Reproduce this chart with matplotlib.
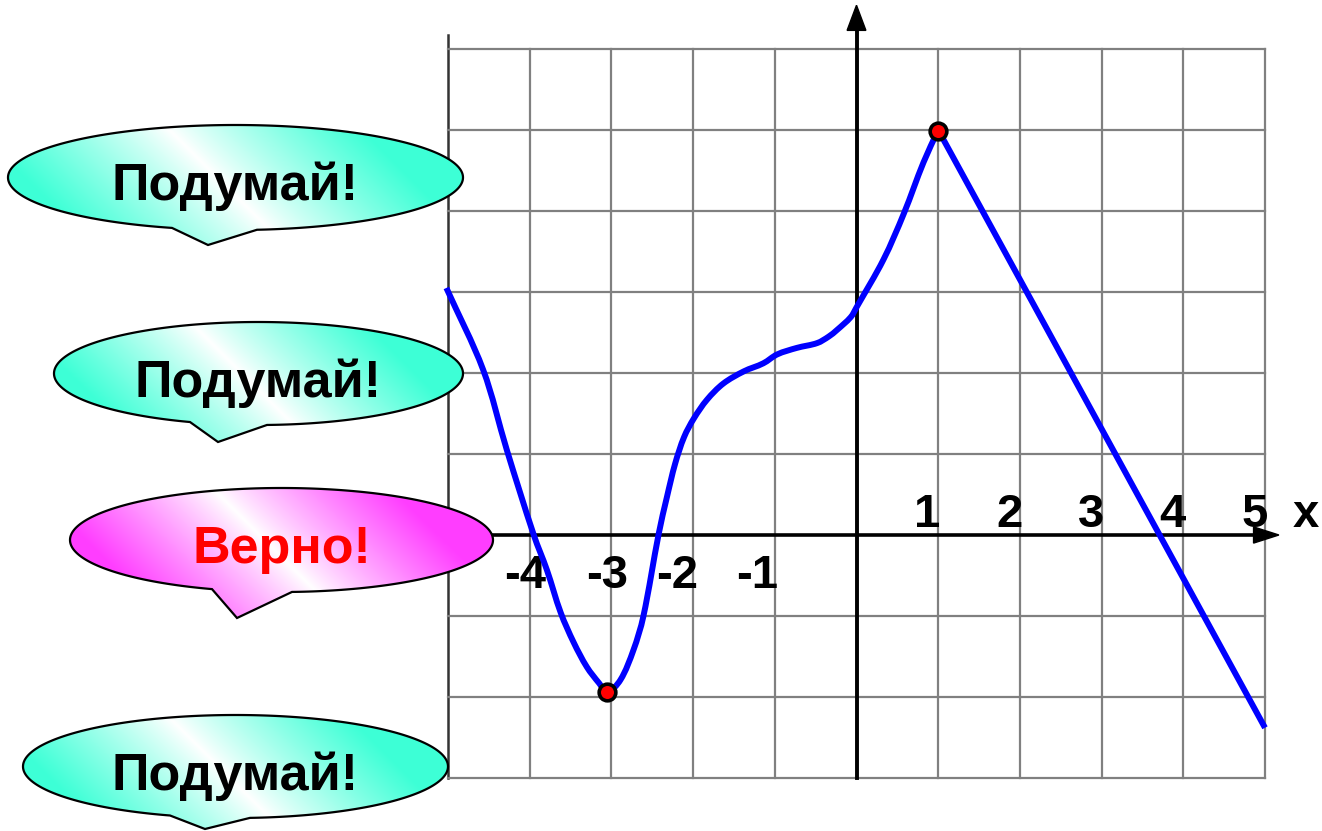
import matplotlib
matplotlib.use("Agg")
import matplotlib.pyplot as plt
import numpy as np
from matplotlib.path import Path
from matplotlib.patches import PathPatch

plt.rcParams['font.family'] = ['Liberation Sans', 'DejaVu Sans']

# точки графика функции
curve_x = [-5.02, -4.57, -4.28, -3.95, -3.79, -3.62, -3.46, -3.30, -3.15, -3.05,
           -2.89, -2.73, -2.61, -2.42, -2.32, -2.22, -2.11, -1.99, -1.83, -1.63,
           -1.38, -1.14, -0.97, -0.73, -0.48, -0.34, -0.24, -0.07, 0.00, 0.33,
           0.58, 0.82, 1.00]
curve_y = [3.05, 2.04, 1.05, 0.00, -0.43, -0.96, -1.33, -1.63, -1.83, -1.94,
           -1.79, -1.42, -1.01, 0.02, 0.47, 0.88, 1.21, 1.44, 1.67, 1.87,
           2.02, 2.12, 2.23, 2.31, 2.37, 2.45, 2.53, 2.69, 2.81, 3.40,
           3.97, 4.60, 5.00]
# прямой участок после максимума
line_x = [1.00, 5.00]
line_y = [5.00, -2.38]

# экстремумы
extr_x = [-3.05, 1.00]
extr_y = [-1.94, 4.99]

x_pos_labels = [1, 2, 3, 4, 5]
x_neg_labels = [-4, -3, -2, -1]

grid_x = list(range(-5, 6))
grid_y = list(range(-3, 7))

bubble_texts = ['Подумай!', 'Подумай!', 'Верно!', 'Подумай!']
bubble_kinds = ['think', 'think', 'right', 'think']

# геометрия пузырей в пикселях: cx, cy, w, h, хвост (левый x, кончик x, кончик y, правый x), база текста
bubble_geom = [
    (235.5, 177.5, 455, 105, 172, 208, 245, 257, 200),
    (258.5, 373.5, 409, 103, 190, 218, 442, 267, 397),
    (281.5, 540.0, 423, 104, 212, 237, 618, 292, 563),
    (235.5, 766.5, 425, 103, 170, 205, 829, 250, 790),
]


# гладкая кривая через точки (Catmull-Rom -> Безье)
def smooth_path(xs, ys):
    p = np.column_stack([xs, ys]).astype(float)
    n = len(p)
    d = np.r_[0, np.cumsum(np.hypot(*np.diff(p, axis=0).T))]
    m = np.zeros_like(p)
    m[0] = (p[1] - p[0]) / (d[1] - d[0])
    m[-1] = (p[-1] - p[-2]) / (d[-1] - d[-2])
    for i in range(1, n - 1):
        m[i] = (p[i + 1] - p[i - 1]) / (d[i + 1] - d[i - 1])
    verts = [p[0]]
    codes = [Path.MOVETO]
    for i in range(n - 1):
        h = d[i + 1] - d[i]
        verts += [p[i] + m[i] * h / 3, p[i + 1] - m[i + 1] * h / 3, p[i + 1]]
        codes += [Path.CURVE4] * 3
    return Path(verts, codes)


W, H = 1322, 831
fig = plt.figure(figsize=(W / 100, H / 100), dpi=100)
ax = fig.add_axes([0, 0, 1, 1])
ax.set_axis_off()

sx = 81.7
sy = 81.0
ax.set_xlim(-5 - 448 / sx, 5 + (W - 1265) / sx)
ax.set_ylim(-(H - 535) / sy, 535 / sy)

# сетка
for gx in grid_x:
    if gx == 0:
        continue
    if gx == -5:
        ax.plot([gx, gx], [-3, 6.17], color='#333333', lw=1.8, zorder=1)
    else:
        ax.plot([gx, gx], [-3, 6], color='#808080', lw=1.6, zorder=1)
for gy in grid_y:
    if gy == 0:
        continue
    ax.plot([-5, 5], [gy, gy], color='#808080', lw=1.6, zorder=1)

# оси со стрелками
ax.plot([-5, 4.9], [0, 0], color='black', lw=2.6, zorder=2)
ax.fill([4.86, 5.17, 4.86], [-0.1, 0, 0.1], color='black', zorder=2)
ax.plot([0, 0], [-3, 6.28], color='black', lw=2.8, zorder=2)
ax.fill([-0.115, 0, 0.115], [6.23, 6.54, 6.23], color='black', zorder=2)

# подписи
for v in x_pos_labels:
    ax.text(v + 0.03, 0.1, str(v), ha='right', va='baseline', fontsize=34,
            fontweight='bold', zorder=3)
neg_shift = [-0.06, -0.05, -0.2, -0.22]
for v, d in zip(x_neg_labels, neg_shift):
    ax.text(v + d, -0.654, str(v), ha='center', va='baseline', fontsize=34,
            fontweight='bold', zorder=3)
ax.text(5.5, 0.1, 'x', ha='center', va='baseline', fontsize=34,
        fontweight='bold', zorder=3)

# график
ax.add_patch(PathPatch(smooth_path(curve_x, curve_y), facecolor='none',
                       edgecolor='#0000FF', lw=4.3, capstyle='butt',
                       joinstyle='round', zorder=4))
ax.plot(line_x, line_y, color='#0000FF', lw=4.3, solid_capstyle='butt', zorder=4)
ax.plot(extr_x, extr_y, 'o', color='#FF0000', markeredgecolor='black',
        markersize=12, markeredgewidth=2.6, zorder=5)

# пузыри поверх
ov = fig.add_axes([0, 0, 1, 1])
ov.set_axis_off()
ov.patch.set_alpha(0)

colors = {'think': np.array([0.24, 1.0, 0.84]), 'right': np.array([1.0, 0.24, 1.0])}
text_colors = {'think': 'black', 'right': '#FF0000'}

for text, kind, g in zip(bubble_texts, bubble_kinds, bubble_geom):
    cx, cy, w, h, lx, tx, ty, rx, base = g
    a, b = w / 2, h / 2
    th_l = np.arccos((lx - cx) / a)
    th_r = np.arccos((rx - cx) / a)
    th = np.linspace(th_l, th_r + 2 * np.pi, 300)
    pts = np.column_stack([cx + a * np.cos(th), cy + b * np.sin(th)])
    pts = np.vstack([pts, [tx, ty], pts[:1]])
    codes = [Path.MOVETO] + [Path.LINETO] * (len(pts) - 2) + [Path.CLOSEPOLY]
    patch = PathPatch(Path(pts, codes), facecolor='none', edgecolor='black',
                      lw=1.6, zorder=7)
    ov.add_patch(patch)

    x0, x1 = cx - a - 2, cx + a + 2
    y0, y1 = cy - b - 2, ty + 2
    xs, ys = np.meshgrid(np.linspace(x0, x1, 400), np.linspace(y0, y1, 150))
    t = (xs - cx) - (ys - cy) + 0.08 * a
    s = np.clip(np.abs(t) / (0.85 * a), 0, 1) ** 0.9
    rgb = (1 - s)[..., None] * np.ones(3) + s[..., None] * colors[kind]
    im = ov.imshow(rgb, extent=(x0, x1, y1, y0), origin='upper', aspect='auto',
                   interpolation='bilinear', zorder=6)
    im.set_clip_path(patch)

    ov.text(cx, base, text, ha='center', va='baseline', fontsize=37.5,
            fontweight='bold', color=text_colors[kind], zorder=8)

ov.set_xlim(0, W)
ov.set_ylim(H, 0)

fig.savefig('out.png', dpi=100)
